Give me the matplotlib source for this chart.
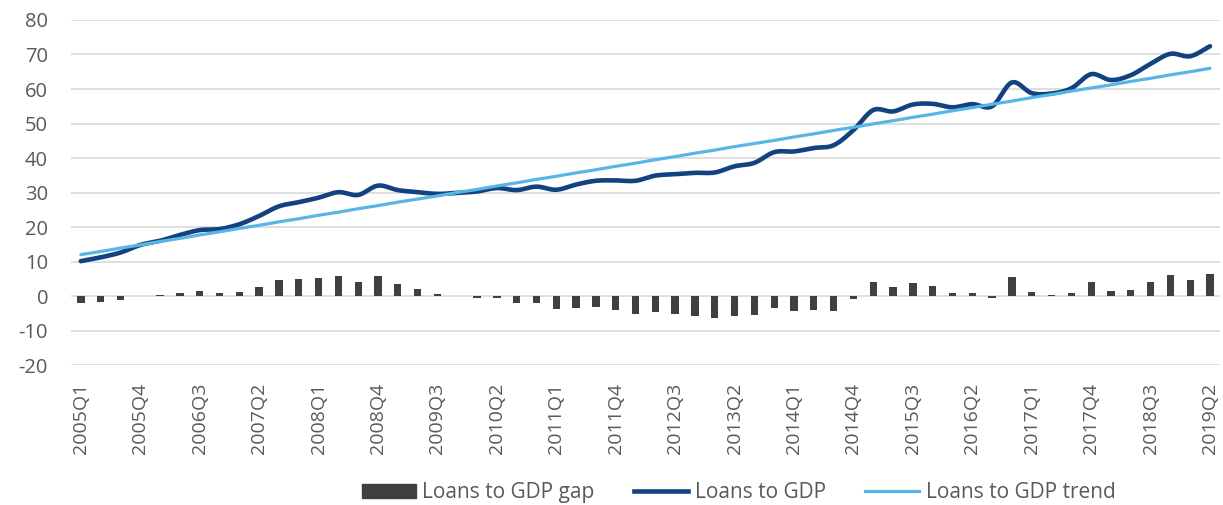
import numpy as np
import matplotlib
matplotlib.use("Agg")
import matplotlib.pyplot as plt
from matplotlib.lines import Line2D
from matplotlib.patches import Patch

plt.rcParams["font.family"] = ["Open Sans", "DejaVu Sans"]
plt.rcParams["axes.unicode_minus"] = False

# Quarterly periods 2005Q1 .. 2019Q2
quarters = [f"{y}Q{q}" for y in range(2005, 2020) for q in range(1, 5)][:58]

# Loans to GDP trend (%)
trend = [12.0, 12.9, 13.9, 14.8, 15.8, 16.7, 17.7, 18.6, 19.6, 20.5,
         21.5, 22.4, 23.4, 24.3, 25.3, 26.2, 27.2, 28.1, 29.0, 30.0,
         30.9, 31.9, 32.8, 33.8, 34.7, 35.7, 36.6, 37.6, 38.5, 39.5,
         40.4, 41.4, 42.3, 43.3, 44.2, 45.1, 46.1, 47.0, 48.0, 48.9,
         49.9, 50.8, 51.8, 52.7, 53.7, 54.6, 55.6, 56.5, 57.5, 58.4,
         59.4, 60.3, 61.2, 62.2, 63.1, 64.1, 65.0, 66.0]

# Loans to GDP gap (percentage points)
gap = [-1.9, -1.7, -1.3, 0.0, 0.2, 1.0, 1.4, 0.8, 1.2, 2.7,
       4.5, 4.8, 5.1, 5.8, 4.0, 5.8, 3.5, 2.0, 0.6, -0.1,
       -0.6, -0.6, -2.1, -2.1, -3.9, -3.4, -3.2, -4.1, -5.1, -4.6,
       -5.1, -5.7, -6.5, -5.7, -5.6, -3.4, -4.2, -4.1, -4.3, -0.8,
       4.0, 2.7, 3.7, 3.0, 1.0, 1.0, -0.6, 5.4, 1.3, 0.3,
       0.8, 4.0, 1.4, 1.8, 4.2, 6.1, 4.5, 6.4]

# Loans to GDP (%)
loans = [10.1, 11.2, 12.6, 14.8, 16.0, 17.7, 19.1, 19.4, 20.8, 23.2,
         26.0, 27.2, 28.5, 30.1, 29.3, 32.0, 30.7, 30.1, 29.6, 29.9,
         30.3, 31.3, 30.7, 31.7, 30.8, 32.3, 33.4, 33.5, 33.4, 34.9,
         35.3, 35.7, 35.8, 37.6, 38.6, 41.7, 41.9, 42.9, 43.7, 48.1,
         53.9, 53.5, 55.5, 55.7, 54.7, 55.6, 55.0, 61.9, 58.8, 58.7,
         60.2, 64.3, 62.6, 64.0, 67.3, 70.2, 69.5, 72.4]

tick_every = 3
label_color = "#595959"
grid_color = "#d9d9d9"
bar_color = "#404040"
loans_color = "#12427f"
trend_color = "#58b6e7"


def smooth(x, y, steps=16):
    """Catmull-Rom spline through the points, for a smoothed line."""
    x = np.asarray(x, float)
    y = np.asarray(y, float)
    px = np.concatenate([[2 * x[0] - x[1]], x, [2 * x[-1] - x[-2]]])
    py = np.concatenate([[2 * y[0] - y[1]], y, [2 * y[-1] - y[-2]]])
    xs, ys = [], []
    t = np.linspace(0, 1, steps, endpoint=False)
    for i in range(1, len(px) - 2):
        for arr, out in ((px, xs), (py, ys)):
            p0, p1, p2, p3 = arr[i - 1], arr[i], arr[i + 1], arr[i + 2]
            out.extend(0.5 * ((2 * p1) + (-p0 + p2) * t
                              + (2 * p0 - 5 * p1 + 4 * p2 - p3) * t ** 2
                              + (-p0 + 3 * p1 - 3 * p2 + p3) * t ** 3))
    xs.append(x[-1])
    ys.append(y[-1])
    return np.array(xs), np.array(ys)


fig = plt.figure(figsize=(12.23, 5.05), dpi=100)
ax = fig.add_axes([0.058, 0.2772, 0.9395, 0.6832])

idx = np.arange(len(quarters))
ax.bar(idx, gap, width=0.37, color=bar_color, zorder=2)
sx, sy = smooth(idx, loans)
ax.plot(sx, sy, color=loans_color, lw=3.3, solid_capstyle="round", zorder=3)
ax.plot(idx, trend, color=trend_color, lw=2.3, solid_capstyle="round", zorder=4)

ax.set_xlim(-0.5, len(quarters) - 0.5)
ax.set_ylim(-20, 80)
ax.set_yticks(range(-20, 81, 10))
ax.set_xticks(idx[::tick_every])
ax.set_xticklabels(quarters[::tick_every], rotation=90)
ax.grid(axis="y", color=grid_color, lw=1.2, zorder=0)
ax.set_axisbelow(True)
for s in ax.spines.values():
    s.set_visible(False)
ax.tick_params(axis="both", length=0, colors=label_color)
ax.tick_params(axis="x", pad=12.5, labelsize=14)
ax.tick_params(axis="y", pad=16.5, labelsize=14.5)

handles = [Patch(color=bar_color, label="Loans to GDP gap"),
           Line2D([], [], color=loans_color, lw=3.3, label="Loans to GDP"),
           Line2D([], [], color=trend_color, lw=2.3, label="Loans to GDP trend")]
leg = fig.legend(handles=handles, loc="lower center", ncol=3,
                 bbox_to_anchor=(0.604, -0.034), frameon=False, fontsize=15,
                 handlelength=2.6, handletextpad=0.3, columnspacing=1.9)
for t in leg.get_texts():
    t.set_color(label_color)

fig.savefig("out.png", dpi=100)
